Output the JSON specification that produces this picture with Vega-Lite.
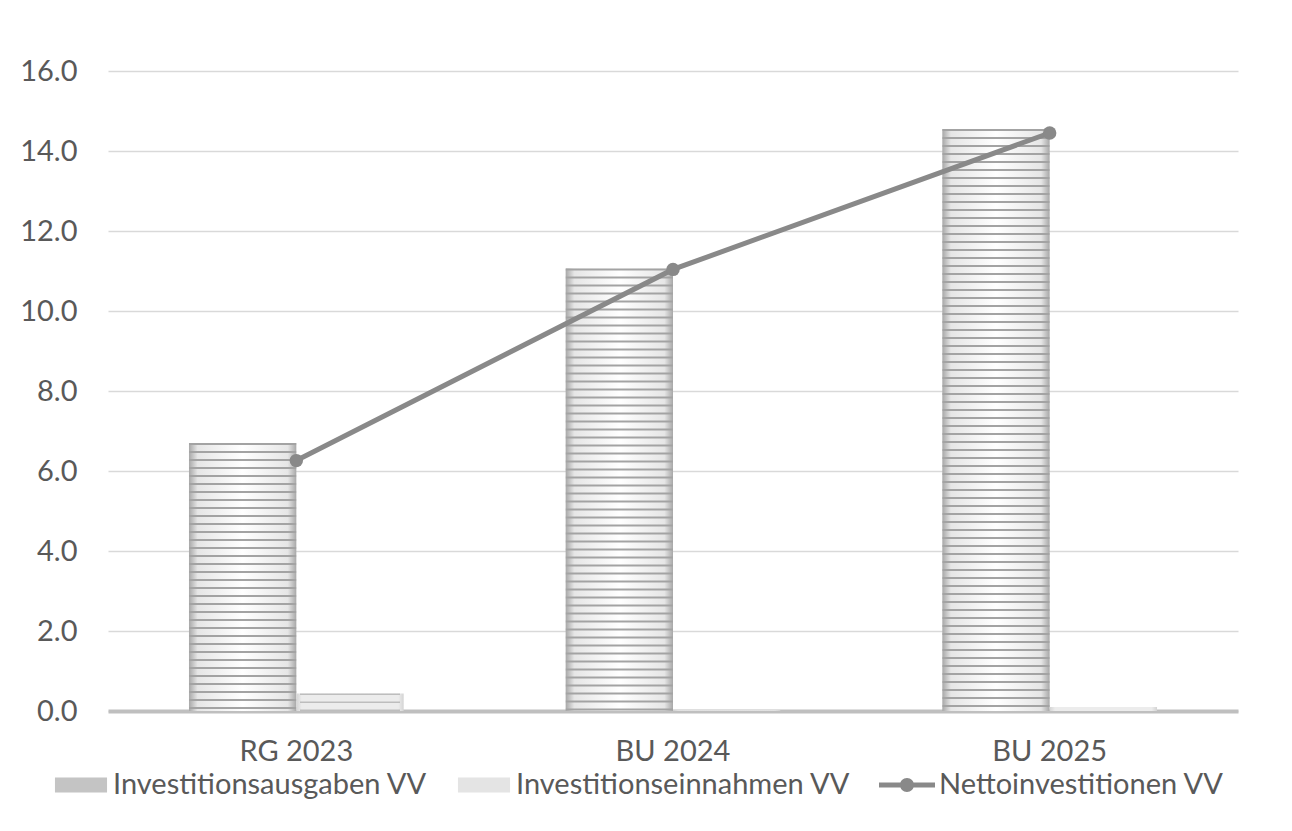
{
  "$schema": "https://vega.github.io/schema/vega-lite/v6.json",
  "width": 1130,
  "height": 640,
  "autosize": {"type": "none"},
  "padding": {"left": 108, "top": 71, "right": 54, "bottom": 120},
  "background": "#ffffff",
  "config": {
    "view": {"stroke": null},
    "font": "Lato",
    "axis": {"labelFont": "Lato", "labelFontSize": 29, "labelColor": "#595959", "ticks": false, "title": null}
  },
  "datasets": {
    "bars": [
      {"year": "RG 2023", "series": "Investitionsausgaben VV", "value": 6.70},
      {"year": "RG 2023", "series": "Investitionseinnahmen VV", "value": 0.44},
      {"year": "BU 2024", "series": "Investitionsausgaben VV", "value": 11.06},
      {"year": "BU 2024", "series": "Investitionseinnahmen VV", "value": 0.02},
      {"year": "BU 2025", "series": "Investitionsausgaben VV", "value": 14.55},
      {"year": "BU 2025", "series": "Investitionseinnahmen VV", "value": 0.10}
    ],
    "net": [
      {"year": "RG 2023", "series": "Nettoinvestitionen VV", "value": 6.26},
      {"year": "BU 2024", "series": "Nettoinvestitionen VV", "value": 11.04},
      {"year": "BU 2025", "series": "Nettoinvestitionen VV", "value": 14.45}
    ]
  },
  "encoding": {
    "x": {
      "field": "year", "type": "nominal", "sort": ["RG 2023", "BU 2024", "BU 2025"],
      "scale": {"paddingInner": 0.43, "paddingOuter": 0.215},
      "axis": {"labelAngle": 0, "labelPadding": 26, "domainColor": "#bfbfbf", "domainWidth": 4, "grid": false}
    }
  },
  "layer": [
    {
      "data": {"name": "bars"},
      "mark": {"type": "bar", "strokeWidth": 0},
      "encoding": {
        "xOffset": {"field": "series", "type": "nominal", "sort": ["Investitionsausgaben VV", "Investitionseinnahmen VV"], "scale": {"paddingInner": 0, "paddingOuter": 0}},
        "y": {
          "field": "value", "type": "quantitative",
          "scale": {"domain": [0, 16], "nice": false},
          "axis": {"values": [0, 2, 4, 6, 8, 10, 12, 14, 16], "format": ".1f", "labelPadding": 31, "domain": false, "gridColor": "#d9d9d9", "gridWidth": 1.5}
        },
        "fill": {
          "condition": {
            "test": "datum.series === 'Investitionsausgaben VV'",
            "value": {"gradient": "linear", "x1": 0, "y1": 0, "x2": 1, "y2": 0, "stops": [
              {"offset": 0, "color": "#a8a8a8"},
              {"offset": 0.08, "color": "#e6e6e6"},
              {"offset": 0.5, "color": "#ffffff"},
              {"offset": 0.92, "color": "#e6e6e6"},
              {"offset": 1, "color": "#a8a8a8"}
            ]}
          },
          "value": {"gradient": "linear", "x1": 0, "y1": 0, "x2": 1, "y2": 0, "stops": [
            {"offset": 0, "color": "#d4d4d4"},
            {"offset": 0.05, "color": "#ececec"},
            {"offset": 0.95, "color": "#ececec"},
            {"offset": 1, "color": "#d4d4d4"}
          ]}
        }
      }
    },
    {
      "data": {"name": "bars"},
      "transform": [{"filter": "datum.series === 'Investitionsausgaben VV'"}],
      "mark": {"type": "rule", "strokeWidth": 107, "strokeDash": [2, 6], "strokeCap": "butt", "color": "#a3a3a3"},
      "encoding": {
        "xOffset": {"field": "series", "type": "nominal", "sort": ["Investitionsausgaben VV", "Investitionseinnahmen VV"], "scale": {"domain": ["Investitionsausgaben VV", "Investitionseinnahmen VV"], "paddingInner": 0, "paddingOuter": 0}},
        "y": {"field": "value", "type": "quantitative"},
        "y2": {"datum": 0}
      }
    },
    {
      "data": {"name": "bars"},
      "transform": [{"filter": "datum.series === 'Investitionseinnahmen VV' && datum.value > 0.2"}],
      "mark": {"type": "rule", "strokeWidth": 100, "strokeDash": [1.5, 6.5], "strokeCap": "butt", "color": "#bdbdbd"},
      "encoding": {
        "xOffset": {"field": "series", "type": "nominal", "sort": ["Investitionsausgaben VV", "Investitionseinnahmen VV"], "scale": {"domain": ["Investitionsausgaben VV", "Investitionseinnahmen VV"], "paddingInner": 0, "paddingOuter": 0}},
        "y": {"field": "value", "type": "quantitative"},
        "y2": {"datum": 0}
      }
    },
    {
      "data": {"name": "net"},
      "mark": {"type": "line", "strokeWidth": 5, "point": {"filled": true, "size": 180}},
      "encoding": {
        "y": {"field": "value", "type": "quantitative"},
        "color": {
          "field": "series", "type": "nominal",
          "scale": {
            "domain": ["Investitionsausgaben VV", "Investitionseinnahmen VV", "Nettoinvestitionen VV"],
            "range": ["#c4c4c4", "#e4e4e4", "#898989"]
          },
          "legend": {
            "title": null,
            "orient": "none",
            "direction": "horizontal",
            "legendX": -55,
            "legendY": 686,
            "padding": 0,
            "symbolSize": 3136,
            "symbolStrokeWidth": 0,
            "labelFont": "Lato",
            "labelFontSize": 29,
            "labelColor": "#595959",
            "labelOffset": 4,
            "columnPadding": 28,
            "labelLimit": 600,
            "encode": {
              "symbols": {
                "update": {
                  "shape": {"signal": "datum.value === 'Nettoinvestitionen VV' ? 'M-1,-0.09L1,-0.09L1,0.09L-1,0.09Z M0.25,0A0.25,0.25 0 1,1 -0.25,0A0.25,0.25 0 1,1 0.25,0Z' : 'M-0.93,-0.27L0.93,-0.27L0.93,0.27L-0.93,0.27Z'"},
                  "fill": {"signal": "datum.value === 'Nettoinvestitionen VV' ? '#898989' : datum.value === 'Investitionsausgaben VV' ? '#bdbdbd' : '#dcdcdc'"},
                  "stroke": {"value": "transparent"},
                  "strokeWidth": {"value": 0},
                  "opacity": {"value": 1}
                }
              }
            }
          }
        }
      }
    }
  ]
}
